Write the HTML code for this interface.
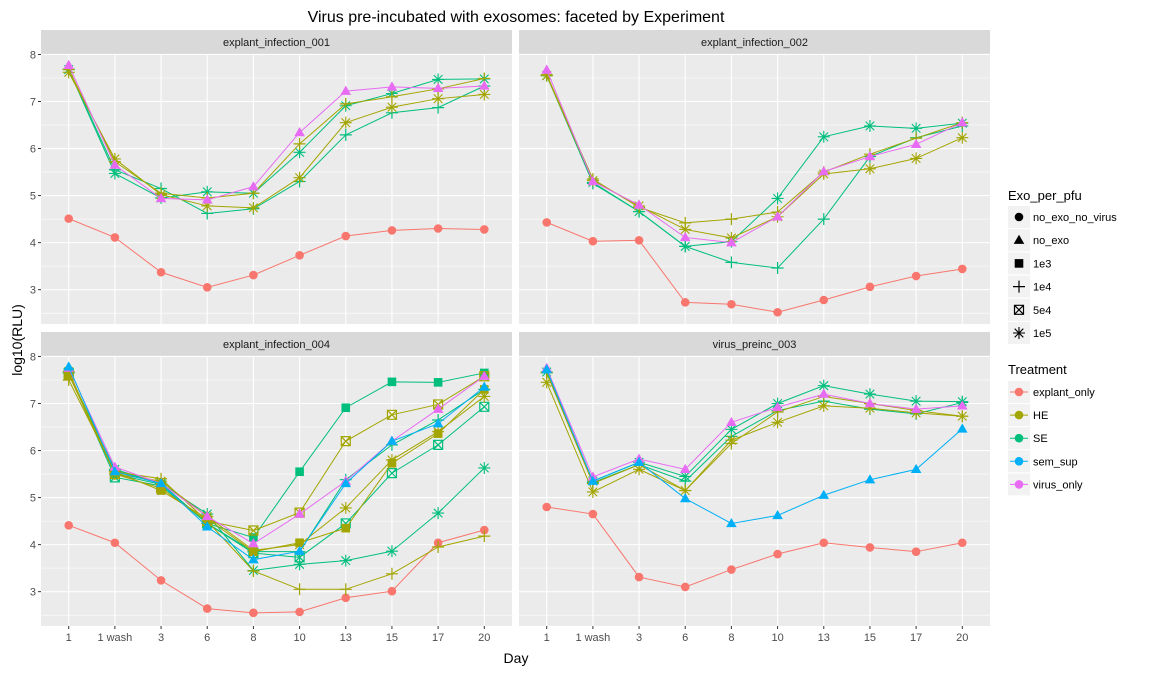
<!DOCTYPE html>
<html><head><meta charset="utf-8"><style>
html,body{margin:0;padding:0;background:#fff;}
svg text{font-family:"Liberation Sans",Arial,sans-serif;}
</style></head><body>
<svg id="chart" width="1152" height="672" xmlns="http://www.w3.org/2000/svg">
<rect width="1152" height="672" fill="#fff"/>
<text x="516" y="22" font-size="16" text-anchor="middle" fill="#000">Virus pre-incubated with exosomes: faceted by Experiment</text>
<text x="516" y="663" font-size="14" text-anchor="middle" fill="#000">Day</text>
<text x="22" y="340" font-size="14" text-anchor="middle" fill="#000" transform="rotate(-90 22 340)">log10(RLU)</text>
<g id="panels"></g>
<g id="legend"></g>
</svg>
<script>
const categories = ["1","1 wash","3","6","8","10","13","15","17","20"];
const yTicks = [3,4,5,6,7,8];
const facetNames = ["explant_infection_001","explant_infection_002","explant_infection_004","virus_preinc_003"];
const exoLevels = ["no_exo_no_virus","no_exo","1e3","1e4","5e4","1e5"];
const treatments = ["explant_only","HE","SE","sem_sup","virus_only"];

// facet 001
const f1_explant = [4.51,4.11,3.37,3.05,3.31,3.73,4.14,4.26,4.30,4.28];
const f1_virus = [7.77,5.65,4.94,4.91,5.19,6.34,7.22,7.31,7.28,7.33];
const f1_SE_1e4 = [7.69,5.55,5.15,4.62,4.72,5.30,6.29,6.76,6.87,7.33];
const f1_SE_1e5 = [7.68,5.47,4.95,5.08,5.05,5.92,6.91,7.17,7.47,7.48];
const f1_HE_1e4 = [7.68,5.72,5.05,4.95,5.05,6.10,6.95,7.10,7.27,7.49];
const f1_HE_1e5 = [7.62,5.78,5.02,4.78,4.74,5.38,6.55,6.88,7.06,7.15];
// facet 002
const f2_explant = [4.43,4.03,4.05,2.73,2.69,2.52,2.78,3.06,3.29,3.44];
const f2_virus = [7.67,5.30,4.80,4.11,4.00,4.55,5.51,5.83,6.09,6.55];
const f2_SE_1e4 = [7.56,5.26,4.66,3.92,3.58,3.46,4.50,5.83,6.23,6.48];
const f2_SE_1e5 = [7.55,5.28,4.66,3.92,4.02,4.94,6.25,6.48,6.43,6.54];
const f2_HE_1e4 = [7.57,5.35,4.75,4.42,4.50,4.65,5.50,5.88,6.22,6.55];
const f2_HE_1e5 = [7.55,5.32,4.78,4.28,4.10,4.55,5.46,5.57,5.79,6.23];
// facet 004
const f3_explant = [4.41,4.04,3.24,2.64,2.55,2.57,2.87,3.01,4.04,4.31];
const f3_virus = [7.75,5.65,5.30,4.60,4.02,4.65,5.35,6.20,6.88,7.58];
const f3_semsup = [7.78,5.55,5.30,4.38,3.68,3.86,5.30,6.20,6.57,7.35];
const f3_SE_1e3 = [7.66,5.50,5.28,4.45,4.15,5.55,6.91,7.46,7.45,7.65];
const f3_SE_5e4 = [7.65,5.43,5.25,4.45,3.82,3.73,4.45,5.52,6.12,6.93];
const f3_SE_1e4 = [7.65,5.58,5.30,4.45,3.85,3.85,5.38,6.12,6.65,7.30];
const f3_SE_1e5 = [7.65,5.60,5.30,4.65,3.45,3.58,3.66,3.86,4.67,5.63];
const f3_HE_1e3 = [7.62,5.55,5.15,4.55,3.85,4.04,4.35,5.73,6.36,7.30];
const f3_HE_5e4 = [7.62,5.50,5.20,4.50,4.30,4.68,6.20,6.76,6.98,7.58];
const f3_HE_1e4 = [7.50,5.55,5.40,4.50,3.44,3.05,3.05,3.38,3.95,4.18];
const f3_HE_1e5 = [7.68,5.50,5.35,4.60,3.88,4.00,4.78,5.80,6.40,7.15];
// facet 003
const f4_explant = [4.80,4.65,3.31,3.10,3.47,3.80,4.04,3.94,3.85,4.04];
const f4_semsup = [7.72,5.35,5.75,4.98,4.45,4.62,5.05,5.38,5.60,6.46];
const f4_virus = [7.75,5.44,5.82,5.60,6.60,6.92,7.20,7.00,6.88,6.95];
const f4_SE_1e5 = [7.67,5.35,5.75,5.45,6.45,7.00,7.38,7.20,7.05,7.04];
const f4_SE_1e4 = [7.65,5.32,5.70,5.35,6.30,6.85,7.05,6.88,6.78,7.02];
const f4_HE_1e4 = [7.65,5.30,5.70,5.15,6.15,6.82,7.15,7.00,6.85,6.73];
const f4_HE_1e5 = [7.45,5.12,5.60,5.15,6.22,6.60,6.95,6.90,6.80,6.73];

const colors = {explant_only:"#F8766D",HE:"#A3A500",SE:"#00BF7D",sem_sup:"#00B0F6",virus_only:"#E76BF3"};

const facetSeries = [
 [["explant_only","no_exo_no_virus",f1_explant],["SE","1e4",f1_SE_1e4],["SE","1e5",f1_SE_1e5],["HE","1e4",f1_HE_1e4],["HE","1e5",f1_HE_1e5],["virus_only","no_exo",f1_virus]],
 [["explant_only","no_exo_no_virus",f2_explant],["SE","1e4",f2_SE_1e4],["SE","1e5",f2_SE_1e5],["HE","1e4",f2_HE_1e4],["HE","1e5",f2_HE_1e5],["virus_only","no_exo",f2_virus]],
 [["explant_only","no_exo_no_virus",f3_explant],["SE","1e3",f3_SE_1e3],["SE","5e4",f3_SE_5e4],["SE","1e4",f3_SE_1e4],["SE","1e5",f3_SE_1e5],["HE","1e3",f3_HE_1e3],["HE","5e4",f3_HE_5e4],["HE","1e4",f3_HE_1e4],["HE","1e5",f3_HE_1e5],["virus_only","no_exo",f3_virus],["sem_sup","no_exo",f3_semsup]],
 [["explant_only","no_exo_no_virus",f4_explant],["SE","1e4",f4_SE_1e4],["SE","1e5",f4_SE_1e5],["HE","1e4",f4_HE_1e4],["HE","1e5",f4_HE_1e5],["virus_only","no_exo",f4_virus],["sem_sup","no_exo",f4_semsup]]
];

const NS="http://www.w3.org/2000/svg";
function mk(tag,attrs,parent){const e=document.createElementNS(NS,tag);for(const k in attrs)e.setAttribute(k,attrs[k]);if(parent)parent.appendChild(e);return e;}

const panelBoxes=[{x:41,y:54,w:471,h:270,sy:30},{x:519,y:54,w:471,h:270,sy:30},{x:41,y:356,w:471,h:270,sy:332},{x:519,y:356,w:471,h:270,sy:332}];
const yMin=2.27,yMax=8.01;

function drawShape(g,shape,cx,cy,col){
  let e;
  if(shape==="no_exo_no_virus"){e=mk("circle",{cx:cx,cy:cy,r:4.3,fill:col},g);}
  else if(shape==="no_exo"){e=mk("path",{d:`M${cx},${cy-5.5}L${cx+5.3},${cy+3.7}L${cx-5.3},${cy+3.7}Z`,fill:col},g);}
  else if(shape==="1e3"){e=mk("rect",{x:cx-4.3,y:cy-4.3,width:8.6,height:8.6,fill:col},g);}
  else if(shape==="1e4"){e=mk("path",{d:`M${cx-6},${cy}H${cx+6}M${cx},${cy-6}V${cy+6}`,stroke:col,"stroke-width":1.2,fill:"none"},g);}
  else if(shape==="5e4"){e=mk("path",{d:`M${cx-4.5},${cy-4.5}h9v9h-9zM${cx-4.5},${cy-4.5}L${cx+4.5},${cy+4.5}M${cx+4.5},${cy-4.5}L${cx-4.5},${cy+4.5}`,stroke:col,"stroke-width":1.2,fill:"none"},g);}
  else {e=mk("path",{d:`M${cx-6},${cy}H${cx+6}M${cx},${cy-6}V${cy+6}M${cx-4.3},${cy-4.3}L${cx+4.3},${cy+4.3}M${cx+4.3},${cy-4.3}L${cx-4.3},${cy+4.3}`,stroke:col,"stroke-width":1.1,fill:"none"},g);}
  return e;
}

const root=document.getElementById("panels");
facetNames.forEach((fn,fi)=>{
  const b=panelBoxes[fi];
  const step=b.w/(categories.length-1+1.2);
  const xS=i=>b.x+step*(0.6+i);
  const yS=v=>b.y+b.h*(yMax-v)/(yMax-yMin);
  const g=mk("g",{},root);
  
  
  const st=mk("rect",{x:b.x,y:b.sy,width:b.w,height:b.y-b.sy,fill:"#D9D9D9"},g);
  
  
  const stt=mk("text",{x:b.x+b.w/2,y:b.sy+16,"font-size":11,"text-anchor":"middle",fill:"#1A1A1A"},g);
  stt.textContent=fn;
  
  
  mk("rect",{x:b.x,y:b.y,width:b.w,height:b.h,fill:"#EBEBEB"},g);
  for(let v=2.5;v<8.01;v+=1){mk("line",{x1:b.x,x2:b.x+b.w,y1:yS(v),y2:yS(v),stroke:"#fff","stroke-width":0.55},g);}
  yTicks.forEach(v=>{mk("line",{x1:b.x,x2:b.x+b.w,y1:yS(v),y2:yS(v),stroke:"#fff","stroke-width":1.1},g);
    if(fi%2===0){mk("line",{x1:b.x-3,x2:b.x,y1:yS(v),y2:yS(v),stroke:"#333","stroke-width":1},g);
      const t=mk("text",{x:b.x-5,y:yS(v)+4,"font-size":11,"text-anchor":"end",fill:"#4D4D4D"},g);t.textContent=v;
      
      }
  });
  categories.forEach((c,i)=>{mk("line",{x1:xS(i),x2:xS(i),y1:b.y,y2:b.y+b.h,stroke:"#fff","stroke-width":1.1},g);
    if(fi>=2){mk("line",{x1:xS(i),x2:xS(i),y1:b.y+b.h,y2:b.y+b.h+3,stroke:"#333","stroke-width":1},g);
      const t=mk("text",{x:xS(i),y:b.y+b.h+15,"font-size":11,"text-anchor":"middle",fill:"#4D4D4D"},g);t.textContent=c;
      
      }
  });
  facetSeries[fi].forEach(s=>{
    const [tr,exo,vals]=s;const col=colors[tr];
    const sg=mk("g",{},g);
    
    
    const pts=vals.map((v,i)=>xS(i)+","+yS(v)).join(" ");
    mk("polyline",{points:pts,fill:"none",stroke:col,"stroke-width":1},sg);
    vals.forEach((v,i)=>{const m=drawShape(sg,exo,xS(i),yS(v),col);
      
      });
  });
});

// legend
const lg=document.getElementById("legend");
function ltxt(x,y,s,size){const t=mk("text",{x:x,y:y,"font-size":size,fill:"#000"},lg);t.textContent=s;return t;}
const t1=ltxt(1008,200,"Exo_per_pfu",13);


exoLevels.forEach((e,i)=>{const cy=217+i*23.2;
  mk("rect",{x:1008,y:cy-11,width:22,height:22,fill:"#F2F2F2"},lg);
  drawShape(lg,e,1019,cy,"#000");
  const t=ltxt(1033,cy+4,e,11);
  
  });
const t2=ltxt(1008,374,"Treatment",13);


treatments.forEach((tr,i)=>{const cy=392+i*23.1;
  mk("rect",{x:1008,y:cy-11,width:22,height:22,fill:"#F2F2F2"},lg);
  mk("line",{x1:1010,x2:1028,y1:cy,y2:cy,stroke:colors[tr],"stroke-width":1},lg);
  mk("circle",{cx:1019,cy:cy,r:4.3,fill:colors[tr]},lg);
  const t=ltxt(1033,cy+4,tr,11);
  
  });
</script>
</body></html>
